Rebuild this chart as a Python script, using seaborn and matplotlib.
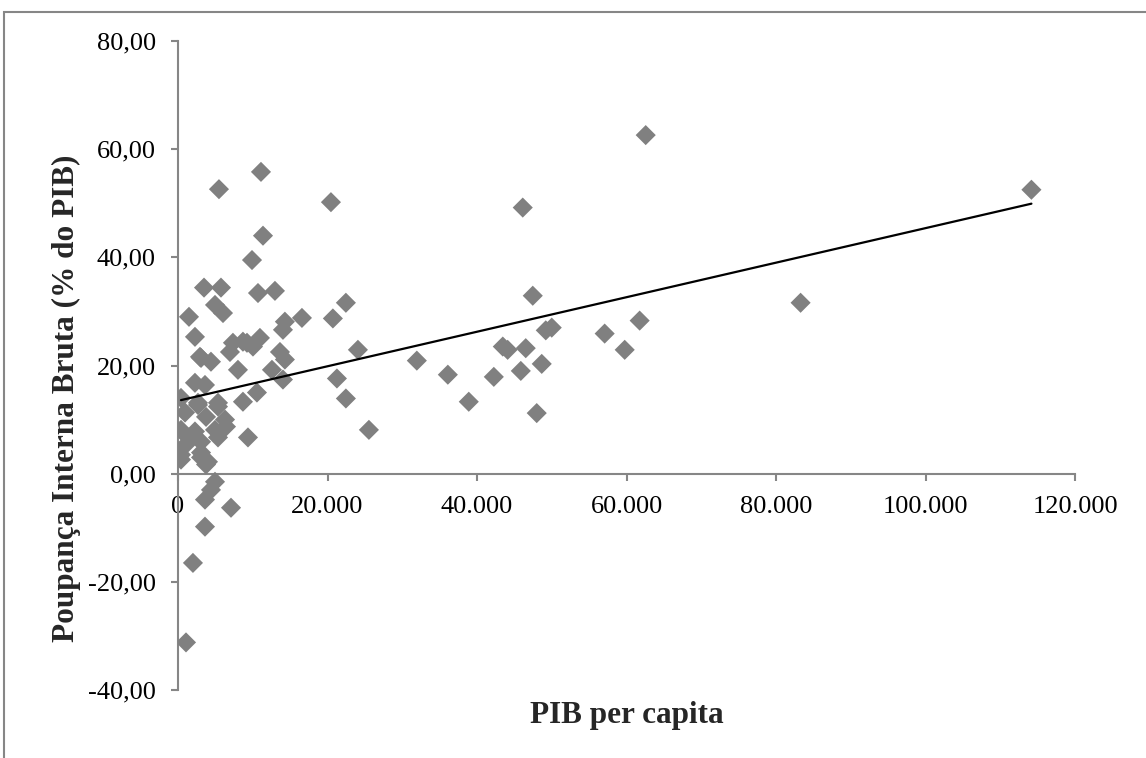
import numpy as np
import pandas as pd
import matplotlib
matplotlib.use("Agg")
import matplotlib.pyplot as plt
import seaborn as sns
from matplotlib.patches import Rectangle
from matplotlib.ticker import FuncFormatter

# PIB per capita (x) and Poupança Interna Bruta % do PIB (y)
pib = [62570, 114170, 83290, 57080, 61760, 59760,
       46120, 47460, 49200, 50000, 43450, 44100, 46520, 48660, 45860, 42250,
       47990, 38900, 36100, 31950, 25540, 24070, 22460, 22460, 21260, 20720,
       20460, 11100, 5480, 11370, 9900, 3480, 5750, 10700, 12970,
       4950, 6020, 1470, 2270, 7350, 8690, 10960, 6950, 10030, 3080, 4410,
       8020, 14300, 16580, 14040, 9230, 13640, 14300, 12570, 14040, 10560,
       8690, 9360, 2270, 3610, 400, 2670, 5350, 940, 3750, 6290, 400, 2270,
       4950, 6420, 1340, 3080, 5350, 400, 3080, 4010, 3080, 1070, 400, 3750,
       4950, 4410, 3610, 7090, 3610, 2000, 1070, 2940, 2670, 5350]
poupanca = [62.6, 52.5, 31.6, 25.9, 28.3, 22.9,
            49.2, 32.9, 26.5, 27.0, 23.5, 22.9, 23.2, 20.3, 19.0, 17.9,
            11.2, 13.3, 18.3, 20.9, 8.1, 22.9, 31.6, 13.9, 17.6, 28.7,
            50.2, 55.8, 52.6, 44.0, 39.5, 34.4, 34.4, 33.4, 33.8,
            31.2, 29.7, 29.0, 25.3, 24.2, 24.4, 25.1, 22.5, 23.5, 21.4, 20.7,
            19.2, 28.1, 28.8, 26.6, 24.2, 22.5, 21.1, 19.2, 17.4, 15.0,
            13.3, 6.7, 16.8, 16.4, 14.0, 13.1, 13.1, 11.3, 10.5, 10.0, 8.1, 7.8,
            8.1, 8.7, 6.7, 5.9, 6.7, 3.5, 3.9, 2.2, 3.0, 5.4, 2.6, 1.7,
            -1.5, -3.0, -4.8, -6.3, -9.8, -16.5, -31.2, 21.6, 12.7, 12.4]

x_ticks = [0, 20000, 40000, 60000, 80000, 100000, 120000]
y_ticks = [-40, -20, 0, 20, 40, 60, 80]

df = pd.DataFrame({"PIB per capita": pib, "Poupanca": poupanca})

sns.set_style("white")
plt.rcParams["font.family"] = ["Liberation Serif", "DejaVu Serif"]

W, H = 1146, 758
fig = plt.figure(figsize=(W / 100, H / 100), dpi=100)
ax = fig.add_axes([178 / W, 1 - 690 / H, (1075 - 178) / W, (690 - 41) / H])

sns.scatterplot(data=df, x="PIB per capita", y="Poupanca", ax=ax,
                marker="D", s=105, color="#808080", edgecolor="none",
                linewidth=0, zorder=3)

# linear trend line (least squares)
coef = np.polyfit(df["PIB per capita"], df["Poupanca"], 1)
xs = np.array([df["PIB per capita"].min(), df["PIB per capita"].max()])
ax.plot(xs, np.polyval(coef, xs), color="black", lw=1.6, zorder=4)

ax.set_xlim(0, 120000)
ax.set_ylim(-40, 80)
ax.set_xticks(x_ticks)
ax.set_yticks(y_ticks)
ax.xaxis.set_major_formatter(FuncFormatter(lambda v, p: f"{int(v):,}".replace(",", ".")))
ax.yaxis.set_major_formatter(FuncFormatter(lambda v, p: f"{v:.2f}".replace(".", ",")))

spine_c = "#868686"
for s in ["top", "right"]:
    ax.spines[s].set_visible(False)
ax.spines["bottom"].set_position(("data", 0))
for s in ["left", "bottom"]:
    ax.spines[s].set_color(spine_c)
    ax.spines[s].set_linewidth(1.5)
ax.tick_params(axis="both", direction="out", length=5, width=1.5, color=spine_c,
               labelsize=19, labelcolor="black")
ax.tick_params(axis="y", pad=11, left=True)
ax.tick_params(axis="x", pad=11, bottom=True)

ax.set_xlabel("PIB per capita", fontsize=22.5, fontweight="bold")
ax.set_ylabel("Poupança Interna Bruta (% do PIB)", fontsize=22.5, fontweight="bold")
ax.xaxis.set_label_coords(0.5, (690 - 716) / (690 - 41))
ax.yaxis.set_label_coords((66 - 178) / (1075 - 178), (690 - 398) / (690 - 41))
ax.yaxis.label.set_va("center")
ax.xaxis.label.set_va("center")

# chart frame
fig.patches.append(Rectangle((4 / W, -0.5), 2.0, (1 - 12 / H) + 0.5,
                             transform=fig.transFigure, fill=False,
                             edgecolor=spine_c, lw=1.5, clip_on=False))

fig.savefig("out.png", dpi=100)
